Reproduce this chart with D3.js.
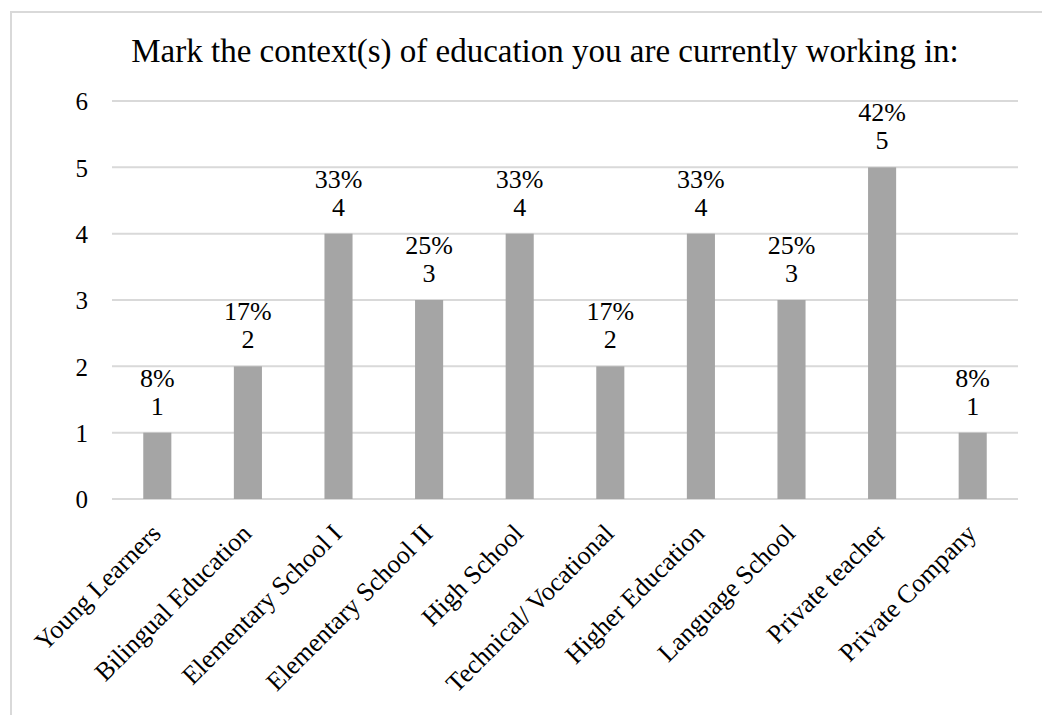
<!DOCTYPE html>
<html>
<head>
<meta charset="utf-8">
<script src="https://cdn.jsdelivr.net/npm/d3@7"></script>
<style>
  body { margin: 0; background: #fff; }
</style>
</head>
<body>
<div id="chart"></div>
<script>
// categories and values
var categories = [
    "Young Learners", "Bilingual Education", "Elementary School I", "Elementary School II",
    "High School", "Technical/ Vocational", "Higher Education", "Language School",
    "Private teacher", "Private Company"
];
var counts = [1, 2, 4, 3, 4, 2, 4, 3, 5, 1];
var percents = ["8%", "17%", "33%", "25%", "33%", "17%", "33%", "25%", "42%", "8%"];
var yTicks = [0, 1, 2, 3, 4, 5, 6];
var title = "Mark the context(s) of education you are currently working in:";

var W = 1042, H = 715;
var FONT = "'Liberation Serif', 'Times New Roman', serif";

var svg = d3.select("#chart")
    .append("svg")
    .attr("width", W)
    .attr("height", H)
    .attr("font-family", FONT);

// chart frame
svg.append("rect")
    .attr("x", 11)
    .attr("y", 12)
    .attr("width", 1100)
    .attr("height", 800)
    .attr("fill", "none")
    .attr("stroke", "#d9d9d9")
    .attr("stroke-width", 2);

// scales
var xScale = d3.scaleBand()
    .domain(categories)
    .range([112, 1018])
    .paddingInner(0.69)
    .paddingOuter(0.345);

var yScale = d3.scaleLinear()
    .domain([0, 6])
    .range([499, 101]);

// title
svg.append("text")
    .attr("x", 545)
    .attr("y", 62)
    .attr("text-anchor", "middle")
    .style("font-family", FONT)
    .style("font-size", "33px")
    .text(title);

// gridlines
svg.append("g")
    .selectAll("line")
    .data(yTicks)
    .join("line")
    .attr("x1", 112)
    .attr("x2", 1018)
    .attr("y1", function(d) { return yScale(d); })
    .attr("y2", function(d) { return yScale(d); })
    .attr("stroke", "#d9d9d9")
    .attr("stroke-width", 2);

// y axis labels
var yAxis = d3.axisLeft(yScale)
    .tickValues(yTicks)
    .tickFormat(d3.format("d"))
    .tickSize(0)
    .tickPadding(0);
var gy = svg.append("g")
    .attr("transform", "translate(88,0)")
    .call(yAxis);
gy.select(".domain").remove();
gy.selectAll("text")
    .style("font-size", "25px")
    .style("font-family", FONT)
    .attr("fill", "#000")
    .attr("dy", "0.35em");

// bars
svg.append("g")
    .selectAll("rect")
    .data(counts)
    .join("rect")
    .attr("x", function(d, i) { return xScale(categories[i]); })
    .attr("y", function(d) { return yScale(d); })
    .attr("width", xScale.bandwidth())
    .attr("height", function(d) { return yScale(0) - yScale(d); })
    .attr("fill", "#a5a5a5");

// data labels: percent on top line, count below
function cx(i) { return xScale(categories[i]) + xScale.bandwidth() / 2; }

var labels = svg.append("g")
    .selectAll("text")
    .data(counts)
    .join("text")
    .attr("text-anchor", "middle")
    .style("font-family", FONT)
    .style("font-size", "26px");

labels.append("tspan")
    .attr("x", function(d, i) { return cx(i); })
    .attr("y", function(d) { return yScale(d) - 46; })
    .text(function(d, i) { return percents[i]; });

labels.append("tspan")
    .attr("x", function(d, i) { return cx(i); })
    .attr("y", function(d) { return yScale(d) - 18; })
    .text(function(d) { return d; });

// x axis labels rotated
var xAxis = d3.axisBottom(xScale).tickSize(0).tickPadding(0);
var gx = svg.append("g")
    .attr("transform", "translate(0," + 499 + ")")
    .call(xAxis);
gx.select(".domain").remove();
gx.selectAll("text")
    .style("font-size", "26px")
    .style("font-family", FONT)
    .attr("fill", "#000")
    .attr("text-anchor", "end")
    .attr("dy", "0")
    .attr("transform", "translate(5,36) rotate(-45)");
</script>
</body>
</html>
